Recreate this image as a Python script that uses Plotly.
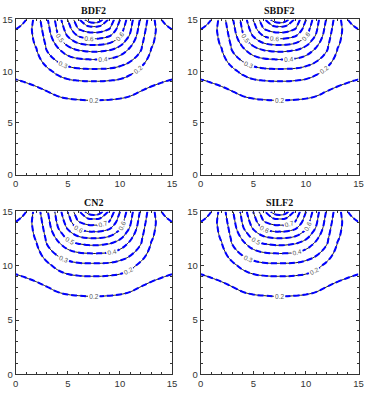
"""Four-panel contour comparison of time-stepping schemes."""

import plotly.graph_objects as go

SCHEMES = ["BDF2", "SBDF2", "CN2", "SILF2"]

X_GRID = [0, 1, 2, 3, 4, 5, 6, 7, 7.5, 8, 9, 10, 11, 12, 13, 14, 15]
Y_GRID = [0, 2, 4, 6, 7, 8, 9, 10, 11, 12, 12.5, 13, 13.5, 14, 14.5, 15]

# field values, one row per y level (bottom to top)
Z_ROWS = [
    [0.042, 0.043, 0.043, 0.044, 0.044, 0.045, 0.045, 0.045, 0.045, 0.045, 0.045, 0.045, 0.044, 0.044, 0.043, 0.043, 0.042],
    [0.054, 0.055, 0.056, 0.057, 0.058, 0.059, 0.060, 0.060, 0.060, 0.060, 0.060, 0.059, 0.058, 0.057, 0.056, 0.055, 0.054],
    [0.075, 0.076, 0.078, 0.080, 0.082, 0.083, 0.084, 0.085, 0.085, 0.085, 0.084, 0.083, 0.082, 0.080, 0.078, 0.076, 0.075],
    [0.105, 0.108, 0.112, 0.116, 0.120, 0.122, 0.124, 0.125, 0.125, 0.125, 0.124, 0.122, 0.120, 0.116, 0.112, 0.108, 0.105],
    [0.121, 0.126, 0.132, 0.138, 0.145, 0.148, 0.150, 0.152, 0.152, 0.152, 0.150, 0.148, 0.145, 0.138, 0.132, 0.126, 0.121],
    [0.137, 0.143, 0.149, 0.158, 0.170, 0.182, 0.190, 0.194, 0.195, 0.194, 0.190, 0.182, 0.170, 0.158, 0.149, 0.143, 0.137],
    [0.155, 0.162, 0.170, 0.190, 0.210, 0.226, 0.234, 0.238, 0.238, 0.238, 0.234, 0.226, 0.210, 0.190, 0.170, 0.162, 0.155],
    [0.178, 0.185, 0.192, 0.223, 0.257, 0.285, 0.298, 0.301, 0.301, 0.301, 0.298, 0.285, 0.257, 0.223, 0.192, 0.185, 0.178],
    [0.192, 0.200, 0.215, 0.267, 0.325, 0.357, 0.377, 0.384, 0.386, 0.384, 0.377, 0.357, 0.325, 0.267, 0.215, 0.200, 0.192],
    [0.200, 0.210, 0.237, 0.321, 0.381, 0.440, 0.477, 0.490, 0.492, 0.490, 0.477, 0.440, 0.381, 0.321, 0.237, 0.210, 0.200],
    [0.200, 0.212, 0.245, 0.332, 0.410, 0.487, 0.534, 0.553, 0.554, 0.553, 0.534, 0.487, 0.410, 0.332, 0.245, 0.212, 0.200],
    [0.195, 0.212, 0.252, 0.344, 0.441, 0.534, 0.594, 0.619, 0.620, 0.619, 0.594, 0.534, 0.441, 0.344, 0.252, 0.212, 0.195],
    [0.185, 0.210, 0.259, 0.355, 0.472, 0.571, 0.654, 0.685, 0.687, 0.685, 0.654, 0.571, 0.472, 0.355, 0.259, 0.210, 0.185],
    [0.165, 0.208, 0.266, 0.367, 0.488, 0.595, 0.712, 0.751, 0.753, 0.751, 0.712, 0.595, 0.488, 0.367, 0.266, 0.208, 0.165],
    [0.115, 0.190, 0.273, 0.378, 0.499, 0.618, 0.748, 0.823, 0.827, 0.823, 0.748, 0.618, 0.499, 0.378, 0.273, 0.190, 0.115],
    [0.060, 0.158, 0.280, 0.390, 0.510, 0.642, 0.780, 0.930, 0.970, 0.930, 0.780, 0.642, 0.510, 0.390, 0.280, 0.158, 0.060],
]

LEVEL_START = 0.16
LEVEL_END = 0.885
LEVEL_STEP = 0.08

TICKS = [0, 5, 10, 15]

W, H = 374, 395
# plot areas in pixels: (left, right, top, bottom)
PANELS = [
    (15.7, 172.0, 19.0, 174.7),
    (200.7, 358.5, 19.0, 174.7),
    (15.7, 172.0, 211.0, 374.3),
    (200.7, 358.5, 211.0, 374.3),
]


def _contour(xref: str, yref: str, color: str, width: float, dash: str, label_color: str) -> go.Contour:
    # both traces carry labels so the dashed overlay is cut at the same spots
    return go.Contour(
        x=X_GRID,
        y=Y_GRID,
        z=Z_ROWS,
        xaxis=xref,
        yaxis=yref,
        contours=dict(
            start=LEVEL_START,
            end=LEVEL_END,
            size=LEVEL_STEP,
            coloring="none",
            showlabels=True,
            labelformat=".1f",
            labelfont=dict(size=6.5, color=label_color, family="Liberation Sans"),
        ),
        line=dict(color=color, width=width, dash=dash, smoothing=1.3),
        showscale=False,
        hoverinfo="skip",
    )


fig = go.Figure()
annotations = []
for i, (name, (left, right, top, bottom)) in enumerate(zip(SCHEMES, PANELS)):
    suffix = "" if i == 0 else str(i + 1)
    xref, yref = "x" + suffix, "y" + suffix
    fig.add_trace(_contour(xref, yref, "#222222", 1, "solid", "#555555"))
    fig.add_trace(_contour(xref, yref, "#0000ff", 2, "6px,3px", "rgba(0,0,0,0)"))

    axis_style = dict(
        showgrid=False,
        zeroline=False,
        showline=True,
        linecolor="#333333",
        linewidth=1,
        mirror="ticks",
        ticks="inside",
        ticklen=3,
        tickcolor="#333333",
        tickvals=TICKS,
        minor=dict(dtick=1, ticks="inside", ticklen=2, tickcolor="#333333"),
        tickfont=dict(family="Liberation Sans", size=9.5, color="#333333"),
        fixedrange=True,
        automargin=False,
    )
    fig.layout["xaxis" + suffix] = dict(
        axis_style,
        domain=[left / W, right / W],
        range=[0, 15],
        anchor=yref,
    )
    fig.layout["yaxis" + suffix] = dict(
        axis_style,
        domain=[1 - bottom / H, 1 - top / H],
        range=[0, 15.05],
        anchor=xref,
    )
    annotations.append(
        dict(
            text="<b>" + name + "</b>",
            x=(left + right) / 2 / W,
            y=1 - top / H,
            xref="paper",
            yref="paper",
            xanchor="center",
            yanchor="bottom",
            yshift=1,
            showarrow=False,
            font=dict(family="Liberation Serif", size=10, color="#111111"),
        )
    )

fig.update_layout(
    width=W,
    height=H,
    margin=dict(l=0, r=0, t=0, b=0),
    paper_bgcolor="white",
    plot_bgcolor="white",
    showlegend=False,
    annotations=annotations,
)

# drop the browser's default body margin so the figure fills the window
fig.write_html(
    "out.html",
    config={"displayModeBar": False},
    post_script="document.body.style.margin = '0';",
)
